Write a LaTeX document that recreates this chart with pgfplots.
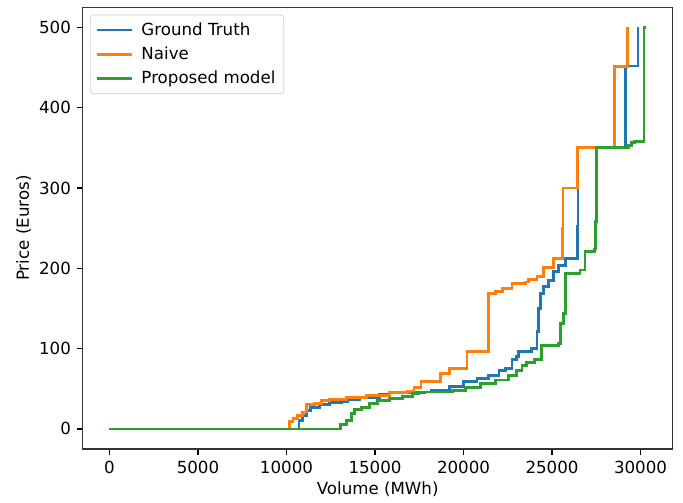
\documentclass[border=0pt]{standalone}
\usepackage{fontspec}
\setmainfont{DejaVu Sans}
\usepackage{pgfplots}
\pgfplotsset{compat=1.18}
\definecolor{c0}{HTML}{1F77B4}
\definecolor{c1}{HTML}{FF7F0E}
\definecolor{c2}{HTML}{2CA02C}
\begin{document}
\begin{tikzpicture}
\begin{axis}[
  scale only axis,
  width=354pt, height=265pt,
  xmin=-1515, xmax=31815, ymin=-25, ymax=525,
  xtick={0,5000,10000,15000,20000,25000,30000},
  ytick={0,100,200,300,400,500},
  scaled x ticks=false,
  xticklabel style={/pgf/number format/.cd,1000 sep={}},
  /pgf/number format/assume math mode=true,
  tick pos=left,
  tick align=outside,
  major tick length=3.5pt,
  every tick/.style={black, line width=0.8pt},
  axis line style={line width=0.8pt, black!80},
  ticklabel style={font=\fontsize{10}{12}\selectfont},
  label style={font=\fontsize{10}{12}\selectfont},
  xlabel={Volume (MWh)},
  ylabel={Price (Euros)},
  xlabel style={yshift=2pt},
  ylabel style={yshift=-2pt},
  legend cell align=left,
  legend style={at={(0,1)}, anchor=north west, xshift=4.4pt, yshift=-4.4pt,
    draw=black!20, rounded corners=2pt, fill=white, fill opacity=0.8, text opacity=1,
    font=\fontsize{10}{12}\selectfont, row sep=1.5pt, inner xsep=3pt, inner ysep=2.5pt},
  legend image code/.code={\draw[#1] (0pt,0pt) -- (21pt,0pt); \path (24pt,0pt);},
  every axis plot/.append style={line width=1.7pt, line join=miter},
]
\addplot[const plot, color=c0] coordinates {
(0,0)(10710,11)(10900,17)(11130,23)(11350,27)(11870,30)(12440,33)(13100,34)(13460,37)(14130,39)(15250,43)(15800,45)(17800,46)(18200,48)(19200,53)(20000,59)(20760,63)(21430,67)(22000,73)(22360,75)(22740,86)(23000,90)(23120,96)(23860,100)(24150,121)(24250,150)(24330,169)(24520,177)(24800,185)(25080,196)(25360,204)(25740,212)(26450,214)(26450,252)(26470,350)(29170,452)(29860,500)(29860,500)};
\addlegendentry{Ground Truth}
\addplot[const plot, color=c1] coordinates {
(0,0)(10150,9)(10370,13)(10600,17)(10900,21)(11130,30)(11600,32)(11970,35)(12440,37)(13370,39)(14500,42)(15800,45)(16840,47)(17200,52)(17600,59)(18700,69)(19200,75)(20200,96)(21430,169)(21800,171)(22200,175)(22740,181)(23500,183)(23680,186)(24150,190)(24520,201)(25080,212)(25600,214)(25580,250)(25620,300)(26450,350)(28510,451)(29240,500)(29240,500)};
\addlegendentry{Naive}
\addplot[const plot, color=c2] coordinates {
(0,0)(13050,5)(13370,10)(13660,19)(13850,24)(14220,27)(14690,32)(15150,35)(15800,38)(16560,40)(17100,44)(17480,46)(19400,48)(20100,52)(20960,57)(21800,61)(22550,67)(23000,73)(23300,79)(23580,83)(24000,86)(24420,104)(25360,106)(25460,131)(25640,144)(25740,194)(26580,198)(26860,221)(27420,224)(27450,258)(27500,350)(29300,353)(29500,357)(29650,358)(30200,500)(30300,500)};
\addlegendentry{Proposed model}
\end{axis}
\pgfresetboundingbox
\path[use as bounding box] ([xshift=-49.6pt,yshift=-32pt]current axis.south west) rectangle ([xshift=6.2pt,yshift=4.4pt]current axis.north east);
\end{tikzpicture}
\end{document}
